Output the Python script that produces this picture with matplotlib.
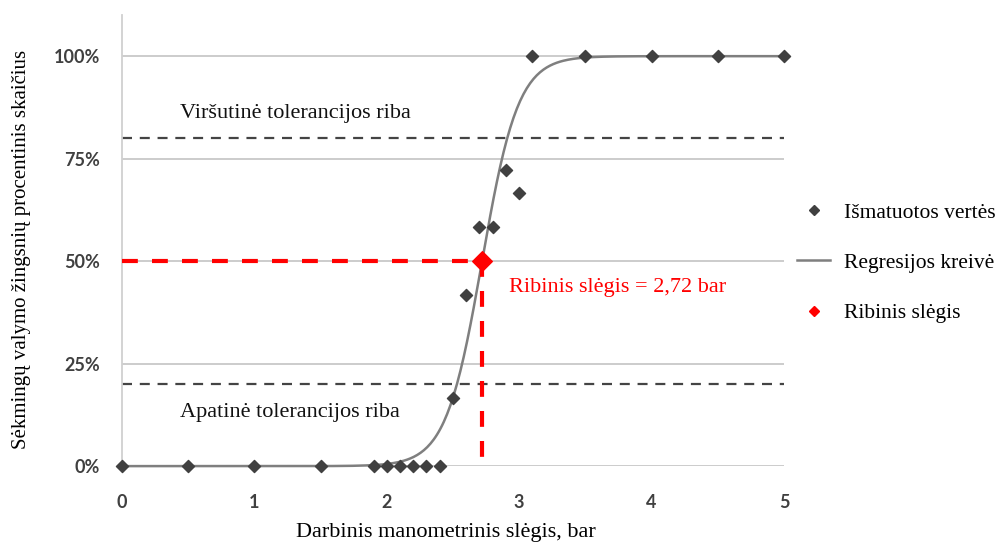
import numpy as np
import matplotlib.pyplot as plt
from matplotlib.lines import Line2D

# measured points (pressure, bar / share of successful steps, %)
pressure = [0, 0.5, 1, 1.5, 1.9, 2.0, 2.1, 2.2, 2.3, 2.4, 2.5, 2.6, 2.7, 2.8, 2.9, 3.0, 3.1, 3.5, 4, 4.5, 5]
success = [0, 0, 0, 0, 0, 0, 0, 0, 0, 0, 16.7, 41.7, 58.3, 58.3, 72.2, 66.7, 100, 100, 100, 100, 100]

# regression (logistic) parameters
threshold = 2.72
slope = 7.3
upper_tol = 80
lower_tol = 20

yticks = [0, 25, 50, 75, 100]
ytick_labels = ["0%", "25%", "50%", "75%", "100%"]
xticks = [0, 1, 2, 3, 4, 5]

serif = ["Liberation Serif", "DejaVu Serif"]
fs = 16

fig = plt.figure(figsize=(10.03, 5.42), dpi=100)
ax = fig.add_axes([0.1216, 0.140, 0.660, 0.832])

ax.set_xlim(0, 5)
ax.set_ylim(0, 110)

for y in yticks:
    ax.axhline(y, color="#c8c8c8", lw=1.3, zorder=1)

# tolerance limits
ax.plot([0, 5], [upper_tol, upper_tol], color="#444444", lw=1.6, dashes=(4.5, 3.5), zorder=2)
ax.plot([0, 5], [lower_tol, lower_tol], color="#444444", lw=1.6, dashes=(4.5, 3.5), zorder=2)

# regression curve
xs = np.linspace(0, 5, 400)
ys = 100 / (1 + np.exp(-slope * (xs - threshold)))
ax.plot(xs, ys, color="#7f7f7f", lw=1.8, zorder=3, clip_on=False)

# threshold lines
ax.plot([0, threshold], [50, 50], color="#ff0000", lw=3, dashes=(3.8, 3.4), zorder=4)
ax.plot([threshold, threshold], [50, 0], color="#ff0000", lw=3, dashes=(3.8, 3.4), zorder=4)

ax.scatter(pressure, success, marker="D", s=38, color="#404040", zorder=5, clip_on=False)
ax.scatter([threshold], [50], marker="D", s=100, color="#ff0000", zorder=6)

ax.text(0.44, 86.0, "Viršutinė tolerancijos riba", family=serif, fontsize=fs, color="#111111", va="center")
ax.text(0.44, 13.2, "Apatinė tolerancijos riba", family=serif, fontsize=fs, color="#111111", va="center")
ax.text(2.92, 43.5, "Ribinis slėgis = 2,72 bar", family=serif, fontsize=fs, color="#ff0000", va="center")

for s in ["top", "right", "bottom"]:
    ax.spines[s].set_visible(False)
ax.spines["left"].set_color("#d0d0d0")
ax.spines["left"].set_linewidth(1.3)

ax.set_yticks(yticks)
ax.set_yticklabels(ytick_labels)
ax.set_xticks(xticks)
ax.tick_params(axis="both", length=0, labelsize=13, labelcolor="#404040")
ax.tick_params(axis="y", pad=16)
ax.tick_params(axis="x", pad=20)
for lab in ax.get_xticklabels() + ax.get_yticklabels():
    lab.set_fontweight("bold")
    lab.set_family(["Lato", "DejaVu Sans"])

ax.set_xlabel("Darbinis manometrinis slėgis, bar", family=serif, fontsize=fs)
ax.xaxis.set_label_coords(0.49, -0.127)
ax.set_ylabel("Sėkmingų valymo žingsnių procentinis skaičius", family=serif, fontsize=15)
ax.yaxis.set_label_coords(-0.138, 0.48)

handles = [
    Line2D([], [], marker="D", color="#404040", ls="none", markersize=5),
    Line2D([], [], color="#7f7f7f", lw=1.8),
    Line2D([], [], marker="D", color="#ff0000", ls="none", markersize=5),
]
labels = ["Išmatuotos vertės", "Regresijos kreivė", "Ribinis slėgis"]
fig.legend(handles, labels, loc="center left", bbox_to_anchor=(0.795, 0.515), frameon=False,
           borderpad=0, borderaxespad=0,
           prop={"family": serif, "size": 15.5}, labelspacing=1.4, handlelength=1.5, handletextpad=0.65)

fig.savefig("out.png", dpi=100)
